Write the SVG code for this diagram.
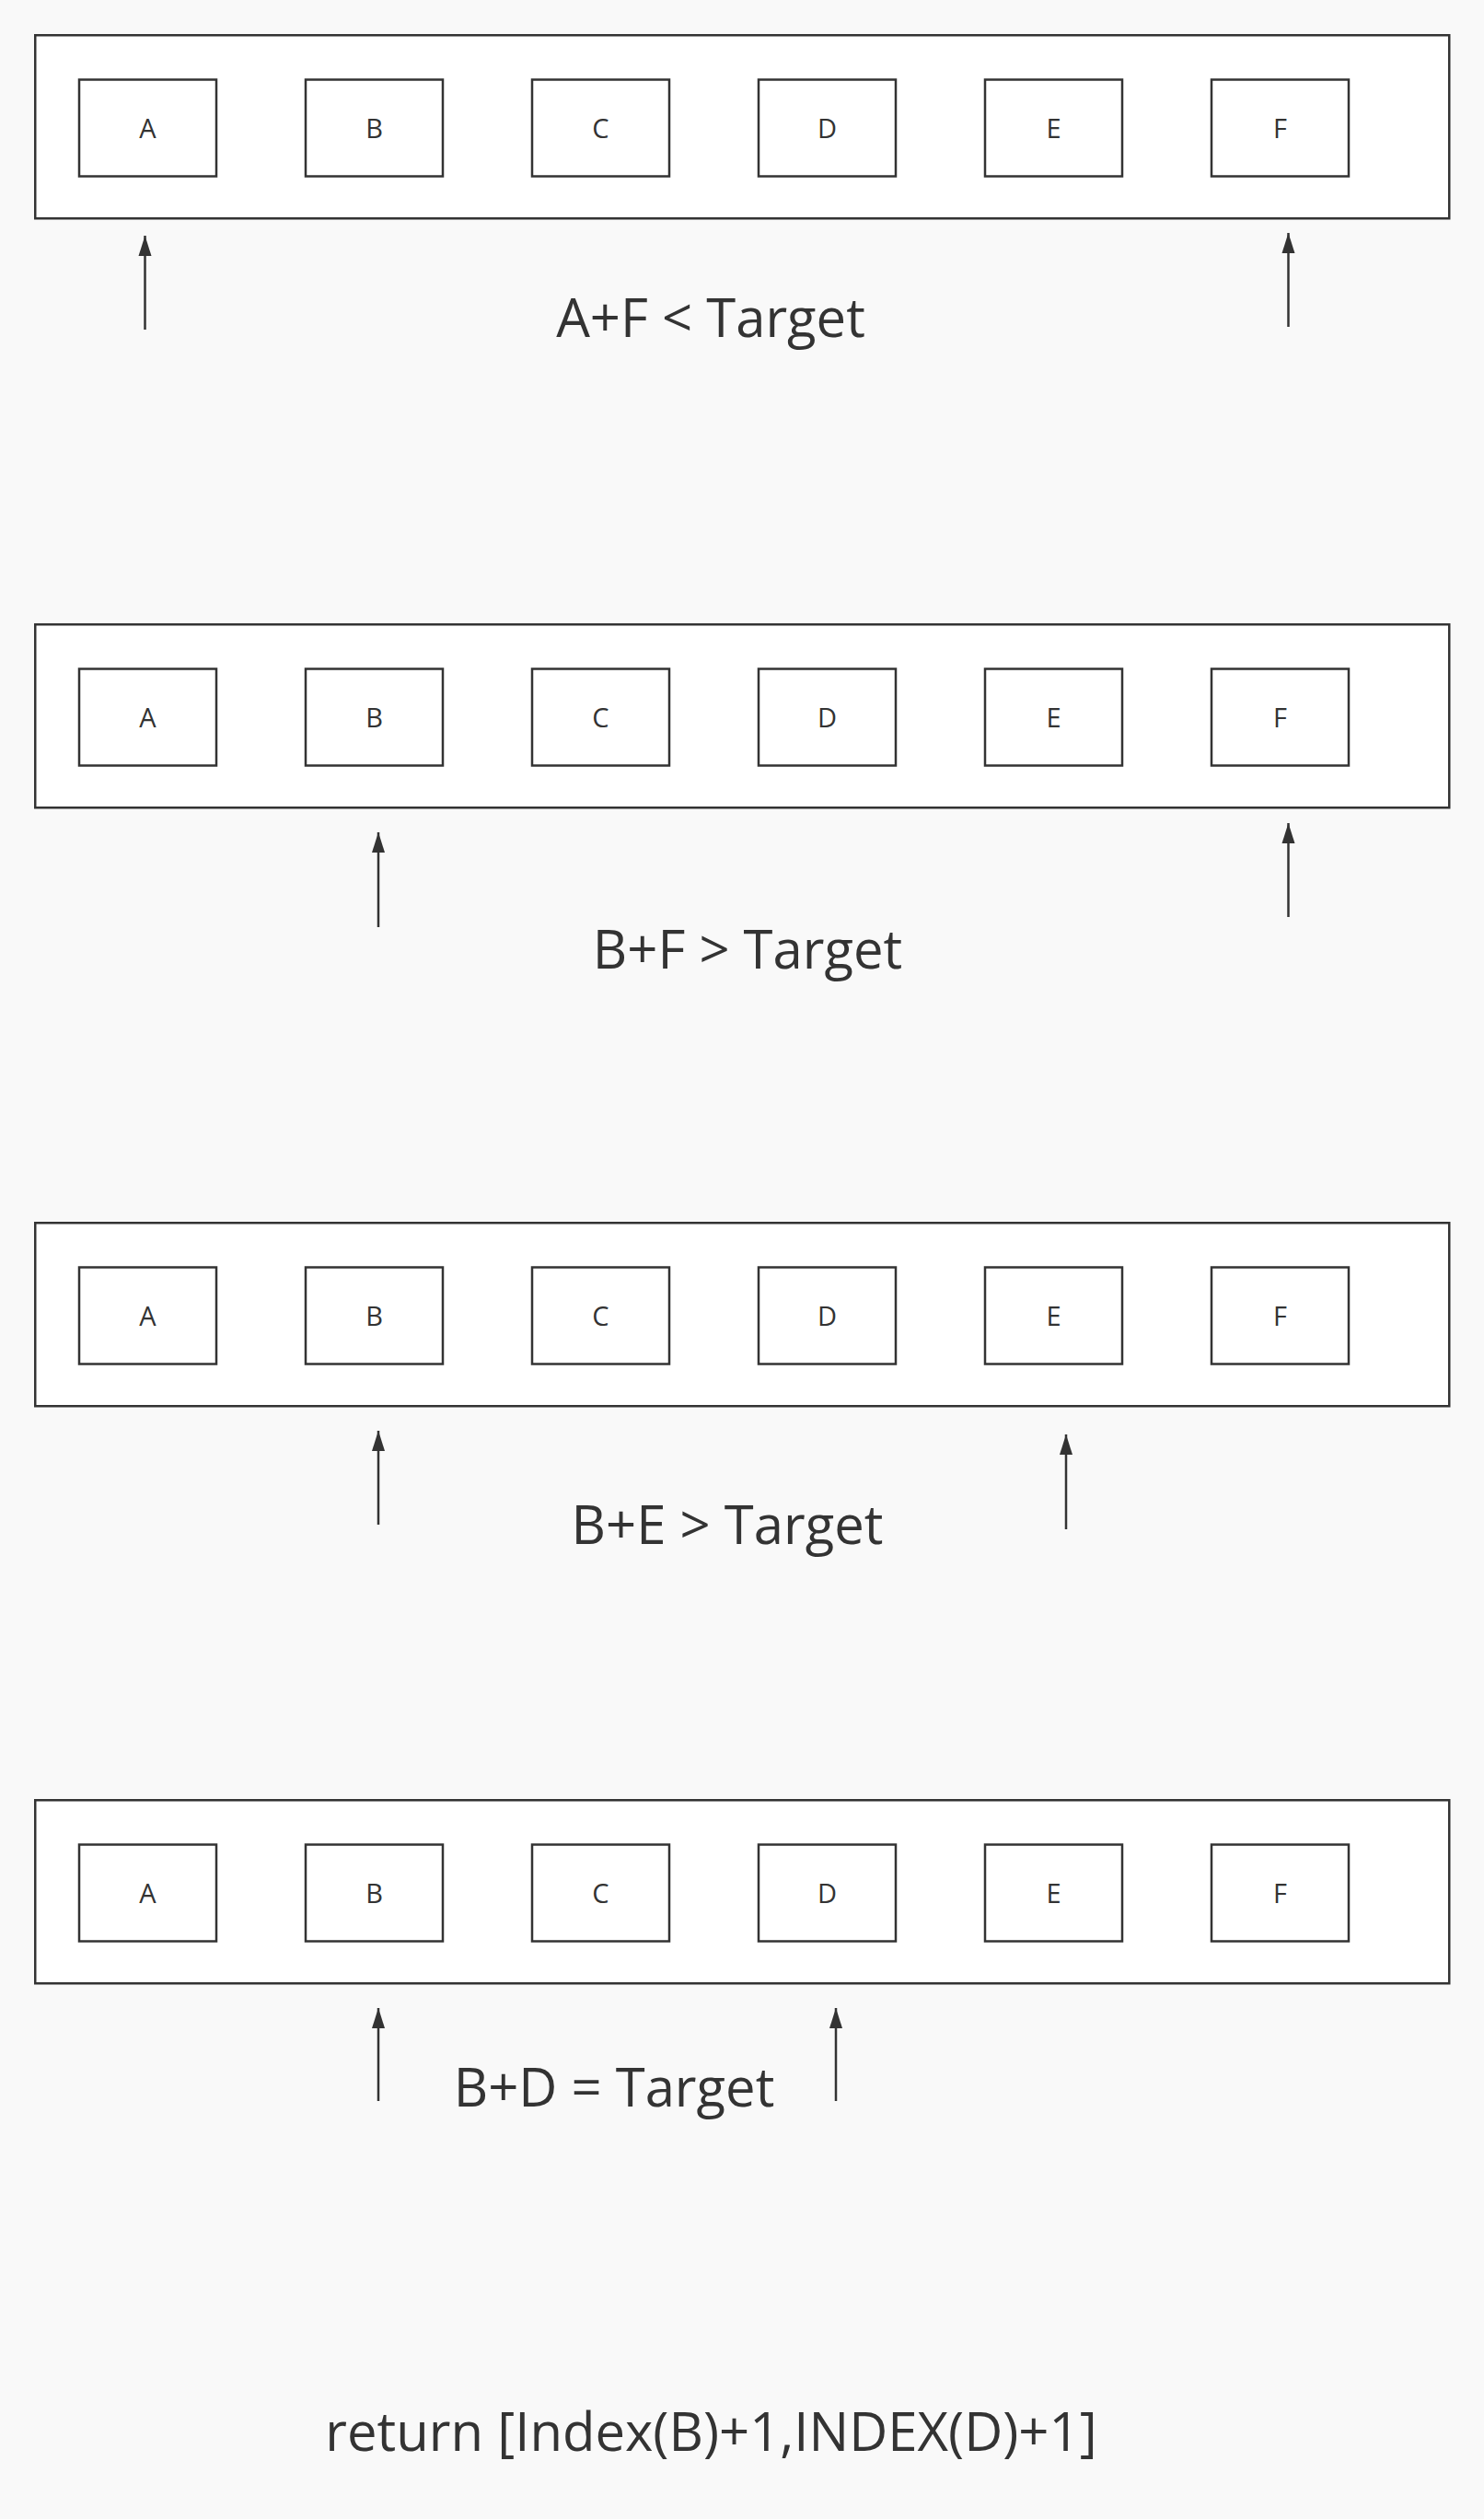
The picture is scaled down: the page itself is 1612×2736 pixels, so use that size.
<svg xmlns="http://www.w3.org/2000/svg" width="1612" height="2736" viewBox="0 0 1612 2736">
<style>
.bg{fill:#f9f9f9}
.outer{fill:#ffffff;stroke:#333333;stroke-width:2.5}
.cell{fill:#ffffff;stroke:#333333;stroke-width:2.5}
.cl{font-family:"Open Sans","Noto Sans","Liberation Sans",sans-serif;font-size:29px;fill:#333333;text-anchor:middle}
.lbl{font-family:"Open Sans","Noto Sans","Liberation Sans",sans-serif;font-size:58px;fill:#333333;text-anchor:middle}
.ptr{stroke:#333333;stroke-width:2.5;fill:none;marker-end:url(#ah)}
</style>
<defs>
<marker id="ah" markerUnits="userSpaceOnUse" markerWidth="24" markerHeight="16" refX="22" refY="7" orient="auto" viewBox="0 0 24 14">
<path d="M0,0 L22,7 L0,14 Z" fill="#333333"/>
</marker>
<g id="row">
<rect class="outer" x="38.25" y="38.25" width="1536" height="199"/>
<rect class="cell" x="86" y="86.5" width="149" height="105"/>
<rect class="cell" x="332" y="86.5" width="149" height="105"/>
<rect class="cell" x="578" y="86.5" width="149" height="105"/>
<rect class="cell" x="824" y="86.5" width="149" height="105"/>
<rect class="cell" x="1070" y="86.5" width="149" height="105"/>
<rect class="cell" x="1316" y="86.5" width="149" height="105"/>
<text class="cl" x="160.5" y="150">A</text>
<text class="cl" x="406.5" y="150">B</text>
<text class="cl" x="652.5" y="150">C</text>
<text class="cl" x="898.5" y="150">D</text>
<text class="cl" x="1144.5" y="150">E</text>
<text class="cl" x="1390.5" y="150">F</text>
</g>
</defs>
<rect class="bg" x="0" y="0" width="1612" height="2736"/>
<g id="step1">
<use href="#row"/>
<text class="lbl" x="772" y="366">A+F &lt; Target</text>
</g>
<g id="step2">
<use href="#row" transform="translate(0,640)"/>
<text class="lbl" x="812" y="1052">B+F &gt; Target</text>
</g>
<g id="step3">
<use href="#row" transform="translate(0,1290)"/>
<text class="lbl" x="790" y="1677">B+E &gt; Target</text>
</g>
<g id="step4">
<use href="#row" transform="translate(0,1917)"/>
<text class="lbl" x="667" y="2288">B+D = Target</text>
</g>
<g id="result">
<text class="lbl" x="772.5" y="2662">return [Index(B)+1,INDEX(D)+1]</text>
</g>
<g id="connectors">
<line class="ptr" x1="157.5" y1="358" x2="157.5" y2="256"/>
<line class="ptr" x1="1399.5" y1="355" x2="1399.5" y2="253"/>
<line class="ptr" x1="411" y1="1007" x2="411" y2="904"/>
<line class="ptr" x1="1399.5" y1="996" x2="1399.5" y2="894"/>
<line class="ptr" x1="411" y1="1656" x2="411" y2="1554"/>
<line class="ptr" x1="1158" y1="1661" x2="1158" y2="1558"/>
<line class="ptr" x1="411" y1="2282" x2="411" y2="2181"/>
<line class="ptr" x1="908" y1="2282" x2="908" y2="2181"/>
</g>
</svg>
